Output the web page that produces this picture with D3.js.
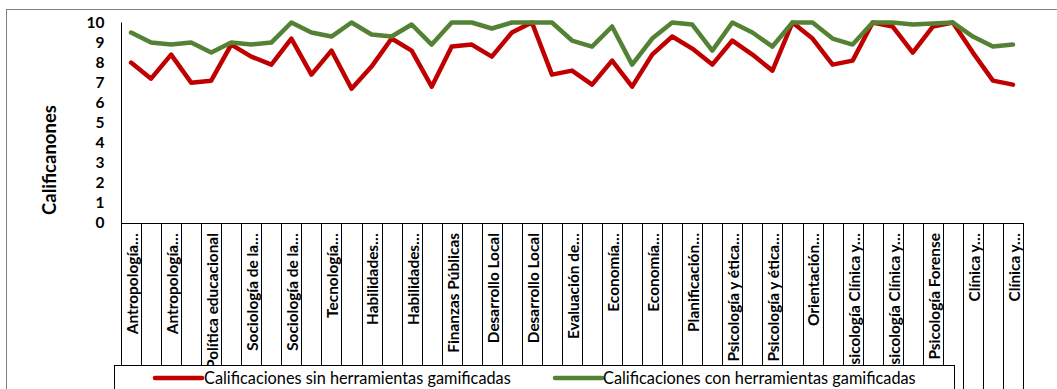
<!DOCTYPE html>
<html>
<head>
<meta charset="utf-8">
<script src="https://cdn.jsdelivr.net/npm/d3@7"></script>
<style>
  html, body { margin: 0; padding: 0; background: #fff; }
  svg { display: block; }
</style>
</head>
<body>
<svg id="chart" width="1057" height="389"></svg>
<script>
// Course labels (shown on every second category slot)
const courseLabels = [
  "Antropología…", "Antropología…", "Política educacional", "Sociología de la…",
  "Sociología de la…", "Tecnología…", "Habilidades…", "Habilidades…",
  "Finanzas Públicas", "Desarrollo Local", "Desarrollo Local", "Evaluación de…",
  "Economía…", "Economía…", "Planificación…", "Psicología y ética…",
  "Psicología y ética…", "Orientación…", "Psicología Clínica y…", "Psicología Clínica y…",
  "Psicología Forense", "Clínica y…", "Clínica y…"
];

// Grades without gamified tools
const sinGamificacion = [
  8.0, 7.2, 8.4, 7.0, 7.1, 8.9, 8.3, 7.9, 9.2, 7.4,
  8.6, 6.7, 7.8, 9.2, 8.6, 6.8, 8.8, 8.9, 8.3, 9.5,
  10, 7.4, 7.6, 6.9, 8.1, 6.8, 8.4, 9.3, 8.7, 7.9,
  9.1, 8.4, 7.6, 10, 9.2, 7.9, 8.1, 10, 9.8, 8.5,
  9.8, 10, 8.5, 7.1, 6.9
];

// Grades with gamified tools
const conGamificacion = [
  9.5, 9.0, 8.9, 9.0, 8.5, 9.0, 8.9, 9.0, 10, 9.5,
  9.3, 10, 9.4, 9.3, 9.9, 8.9, 10, 10, 9.7, 10,
  10, 10, 9.1, 8.8, 9.8, 7.9, 9.2, 10, 9.9, 8.6,
  10, 9.5, 8.8, 10, 10, 9.2, 8.9, 10, 10, 9.9,
  9.95, 10, 9.3, 8.8, 8.9
];

const yTicks = [0, 1, 2, 3, 4, 5, 6, 7, 8, 9, 10];

const seriesNames = [
  "Calificaciones sin herramientas gamificadas",
  "Calificaciones con herramientas gamificadas"
];
const seriesColors = ["#c00000", "#548235"];

const svg = d3.select("#chart");
const W = 1057, H = 389;

const plot = { left: 121, right: 1023, top: 22.5, bottom: 223 };
const idx = d3.range(sinGamificacion.length);

const x = d3.scaleBand().domain(idx).range([plot.left, plot.right]).paddingInner(0).paddingOuter(0);
const y = d3.scaleLinear().domain([0, 10]).range([plot.bottom, plot.top]);

// Chart area border
svg.append("rect")
  .attr("x", 6.5).attr("y", 9.5)
  .attr("width", 1200).attr("height", 600)
  .attr("fill", "#fff")
  .attr("stroke", "#808080").attr("stroke-width", 1);

// Category separators running down through the label area
const bounds = idx.map(i => x(i)).concat([plot.right]);
svg.append("g")
  .selectAll("line")
  .data(bounds)
  .join("line")
  .attr("x1", d => Math.round(d) + 0.5).attr("x2", d => Math.round(d) + 0.5)
  .attr("y1", plot.bottom).attr("y2", H + 5)
  .attr("stroke", "#000").attr("stroke-width", 1);

// Y axis
const yAxis = svg.append("g")
  .attr("transform", `translate(${plot.left + 0.5},0)`)
  .call(d3.axisLeft(y).tickValues(yTicks).tickSize(0).tickPadding(17));
yAxis.select(".domain").attr("stroke", "#000").attr("d", `M0,${plot.top}V${plot.bottom}`);
yAxis.selectAll("text")
  .attr("font-family", "Lato, sans-serif")
  .attr("font-weight", "bold")
  .attr("font-size", 15.5)
  .attr("fill", "#000");

// X axis line
svg.append("line")
  .attr("x1", plot.left).attr("x2", plot.right)
  .attr("y1", plot.bottom + 0.5).attr("y2", plot.bottom + 0.5)
  .attr("stroke", "#000");

// Rotated category labels on every second slot
svg.append("g")
  .selectAll("text")
  .data(courseLabels)
  .join("text")
  .attr("transform", (d, k) => `translate(${x(k * 2) + x.bandwidth() / 2 + 1.5},${plot.bottom + 10}) rotate(-90)`)
  .attr("text-anchor", "end")
  .attr("dy", "0.35em")
  .attr("font-family", "Lato, sans-serif")
  .attr("font-weight", "bold")
  .attr("font-size", 15.4)
  .attr("fill", "#000")
  .text(d => d);

// Y axis title
svg.append("text")
  .attr("transform", "translate(50,160) rotate(-90)")
  .attr("text-anchor", "middle")
  .attr("dy", "0.35em")
  .attr("font-family", "Lato, sans-serif")
  .attr("font-weight", "bold")
  .attr("font-size", 18.5)
  .text("Calificanones");

// Series lines
const line = d3.line()
  .x((d, i) => x(i) + x.bandwidth() / 2)
  .y(d => y(d));

[sinGamificacion, conGamificacion].forEach((vals, s) => {
  svg.append("path")
    .datum(vals)
    .attr("d", line)
    .attr("fill", "none")
    .attr("stroke", seriesColors[s])
    .attr("stroke-width", 4.5)
    .attr("stroke-linejoin", "round")
    .attr("stroke-linecap", "round");
});

// Legend box
const legend = svg.append("g");
legend.append("rect")
  .attr("x", 114.5).attr("y", 365.5)
  .attr("width", 840).attr("height", 60)
  .attr("fill", "#fff")
  .attr("stroke", "#000").attr("stroke-width", 1);

const legendItems = [
  { x0: 155, x1: 202, tx: 204 },
  { x0: 555, x1: 602, tx: 603 }
];
legendItems.forEach((it, s) => {
  legend.append("line")
    .attr("x1", it.x0).attr("x2", it.x1)
    .attr("y1", 378).attr("y2", 378)
    .attr("stroke", seriesColors[s]).attr("stroke-width", 4.5)
    .attr("stroke-linecap", "round");
  legend.append("text")
    .attr("x", it.tx).attr("y", 378)
    .attr("dy", "0.35em")
    .attr("font-family", "Lato, sans-serif")
    .attr("font-size", 16.3)
    .attr("fill", "#000")
    .text(seriesNames[s]);
});
</script>
</body>
</html>
